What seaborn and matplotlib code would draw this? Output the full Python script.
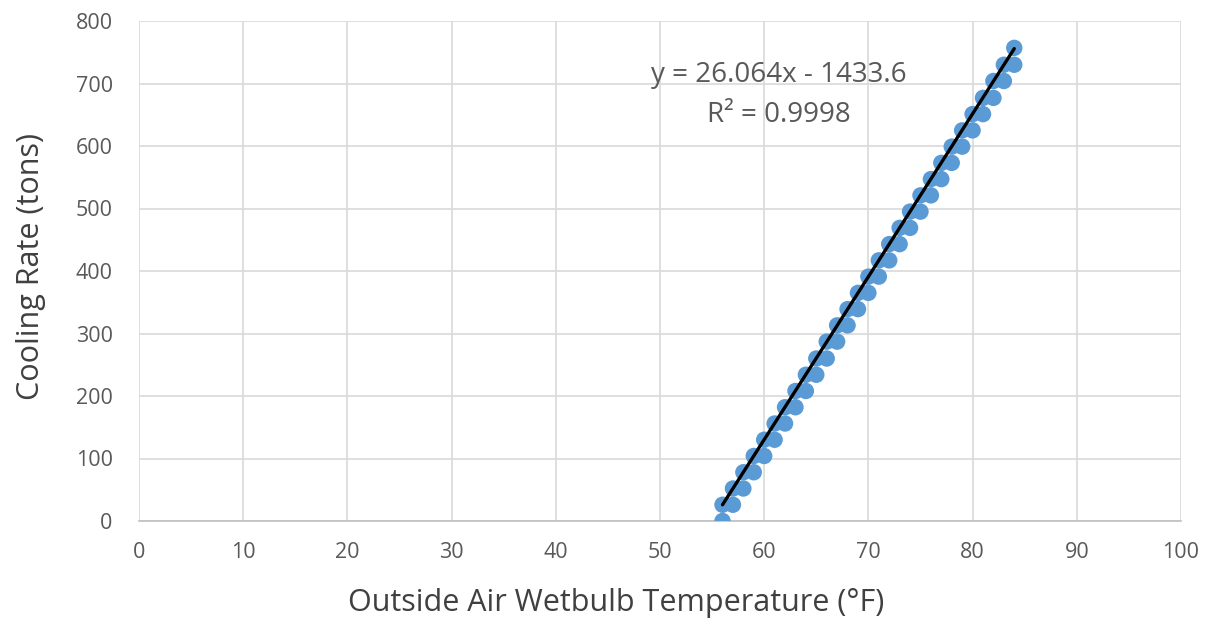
import numpy as np
import pandas as pd
import matplotlib.pyplot as plt
import seaborn as sns

# wetbulb temps (F) and cooling rate steps (tons)
temps = [56, 57, 58, 59, 60, 61, 62, 63, 64, 65, 66, 67, 68, 69, 70,
         71, 72, 73, 74, 75, 76, 77, 78, 79, 80, 81, 82, 83, 84]
upper_tons = [26, 52, 78, 104, 130, 156, 182, 208, 234, 260, 287, 313, 339, 365, 391,
              417, 443, 469, 495, 521, 547, 573, 599, 625, 651, 677, 704, 730, 757]
lower_tons = [0] + upper_tons[:-1]

# trendline from the chart label
slope = 26.064
intercept = -1433.6
eq_text = "y = 26.064x - 1433.6"
r2_text = "R² = 0.9998"

df = pd.DataFrame({
    "temp": temps + temps,
    "tons": lower_tons + upper_tons,
})

sns.set_style("white")
plt.rcParams['font.family'] = ['Open Sans', 'DejaVu Sans']

fig = plt.figure(figsize=(12.12, 6.25), dpi=100)
ax = fig.add_axes([0.1147, 0.1664, 0.8597, 0.8])

sns.scatterplot(data=df, x="temp", y="tons", ax=ax, color="#5B9BD5",
                s=140, edgecolor="none", zorder=3)

trend = pd.DataFrame({"temp": [temps[0], temps[-1]]})
trend["tons"] = slope * trend["temp"] + intercept
sns.lineplot(data=trend, x="temp", y="tons", ax=ax, color="black",
             linewidth=2.4, zorder=4)

ax.set_xlim(0, 100)
ax.set_ylim(0, 800)
ax.set_xticks(np.arange(0, 101, 10))
ax.set_yticks(np.arange(0, 801, 100))
ax.grid(True, color="#d9d9d9", linewidth=1.2)
ax.set_axisbelow(True)
for side in ["top", "right", "left"]:
    ax.spines[side].set_visible(False)
ax.spines["bottom"].set_color("#bfbfbf")
ax.spines["bottom"].set_linewidth(1.2)

ax.tick_params(axis="both", length=0, labelsize=15.5, labelcolor="#595959")
ax.tick_params(axis="y", pad=19)
ax.tick_params(axis="x", pad=15)

ax.set_xlabel("Outside Air Wetbulb Temperature (°F)", fontsize=22, color="#404040", va="center")
ax.set_ylabel("Cooling Rate (tons)", fontsize=22, color="#404040", va="center")
ax.xaxis.set_label_coords(0.458, -0.164)
ax.yaxis.set_label_coords(-0.104, 0.51)

ax.text(61.4, 714, eq_text, fontsize=20, color="#595959", ha="center", va="center")
ax.text(61.4, 650, r2_text, fontsize=20, color="#595959", ha="center", va="center")

fig.savefig("out.png", dpi=100)
